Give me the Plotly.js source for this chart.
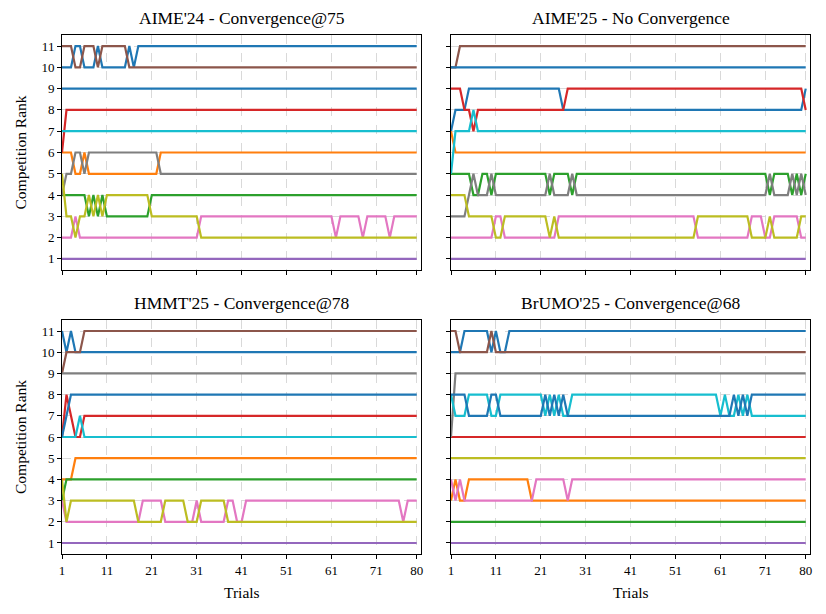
<!DOCTYPE html>
<html>
<head>
<meta charset="utf-8">
<script src="https://cdn.plot.ly/plotly-3.0.1.min.js"></script>
<style>html,body{margin:0;padding:0;background:#fff;}#chart{width:826px;height:614px;}</style>
</head>
<body>
<div id="chart"></div>
<script>
const trials = [1,2,3,4,5,6,7,8,9,10,11,12,13,14,15,16,17,18,19,20,21,22,23,24,25,26,27,28,29,30,31,32,33,34,35,36,37,38,39,40,41,42,43,44,45,46,47,48,49,50,51,52,53,54,55,56,57,58,59,60,61,62,63,64,65,66,67,68,69,70,71,72,73,74,75,76,77,78,79,80];
const xTicks = [1,11,21,31,41,51,61,71,80];
const yTicks = [1,2,3,4,5,6,7,8,9,10,11];
const panelTitles = ["AIME'24 - Convergence@75", "AIME'25 - No Convergence", "HMMT'25 - Convergence@78", "BrUMO'25 - Convergence@68"];

// rank per trial for 11 models (order: blue, orange, green, red, purple, brown, pink, gray, olive, cyan, blue)
const aime24Ranks = [
 [10,10,10,11,11,10,10,10,11,10, 10,10,10,10,10,11,10,11,11,11, 11,11,11,11,11,11,11,11,11,11, 11,11,11,11,11,11,11,11,11,11, 11,11,11,11,11,11,11,11,11,11, 11,11,11,11,11,11,11,11,11,11, 11,11,11,11,11,11,11,11,11,11, 11,11,11,11,11,11,11,11,11,11],
 [6,6,6,5,5,6,5,5,5,5, 5,5,5,5,5,5,5,5,5,5, 5,5,6,6,6,6,6,6,6,6, 6,6,6,6,6,6,6,6,6,6, 6,6,6,6,6,6,6,6,6,6, 6,6,6,6,6,6,6,6,6,6, 6,6,6,6,6,6,6,6,6,6, 6,6,6,6,6,6,6,6,6,6],
 [4,4,4,4,4,4,3,4,3,4, 3,3,3,3,3,3,3,3,3,3, 4,4,4,4,4,4,4,4,4,4, 4,4,4,4,4,4,4,4,4,4, 4,4,4,4,4,4,4,4,4,4, 4,4,4,4,4,4,4,4,4,4, 4,4,4,4,4,4,4,4,4,4, 4,4,4,4,4,4,4,4,4,4],
 [6,8,8,8,8,8,8,8,8,8, 8,8,8,8,8,8,8,8,8,8, 8,8,8,8,8,8,8,8,8,8, 8,8,8,8,8,8,8,8,8,8, 8,8,8,8,8,8,8,8,8,8, 8,8,8,8,8,8,8,8,8,8, 8,8,8,8,8,8,8,8,8,8, 8,8,8,8,8,8,8,8,8,8],
 [1,1,1,1,1,1,1,1,1,1, 1,1,1,1,1,1,1,1,1,1, 1,1,1,1,1,1,1,1,1,1, 1,1,1,1,1,1,1,1,1,1, 1,1,1,1,1,1,1,1,1,1, 1,1,1,1,1,1,1,1,1,1, 1,1,1,1,1,1,1,1,1,1, 1,1,1,1,1,1,1,1,1,1],
 [11,11,11,10,10,11,11,11,10,11, 11,11,11,11,11,10,10,10,10,10, 10,10,10,10,10,10,10,10,10,10, 10,10,10,10,10,10,10,10,10,10, 10,10,10,10,10,10,10,10,10,10, 10,10,10,10,10,10,10,10,10,10, 10,10,10,10,10,10,10,10,10,10, 10,10,10,10,10,10,10,10,10,10],
 [2,2,2,3,2,2,2,2,2,2, 2,2,2,2,2,2,2,2,2,2, 2,2,2,2,2,2,2,2,2,2, 2,3,3,3,3,3,3,3,3,3, 3,3,3,3,3,3,3,3,3,3, 3,3,3,3,3,3,3,3,3,3, 3,2,3,3,3,3,3,2,3,3, 3,3,3,2,3,3,3,3,3,3],
 [4,5,5,6,6,5,6,6,6,6, 6,6,6,6,6,6,6,6,6,6, 6,6,5,5,5,5,5,5,5,5, 5,5,5,5,5,5,5,5,5,5, 5,5,5,5,5,5,5,5,5,5, 5,5,5,5,5,5,5,5,5,5, 5,5,5,5,5,5,5,5,5,5, 5,5,5,5,5,5,5,5,5,5],
 [5,3,3,2,3,3,4,3,4,3, 4,4,4,4,4,4,4,4,4,4, 3,3,3,3,3,3,3,3,3,3, 3,2,2,2,2,2,2,2,2,2, 2,2,2,2,2,2,2,2,2,2, 2,2,2,2,2,2,2,2,2,2, 2,2,2,2,2,2,2,2,2,2, 2,2,2,2,2,2,2,2,2,2],
 [7,7,7,7,7,7,7,7,7,7, 7,7,7,7,7,7,7,7,7,7, 7,7,7,7,7,7,7,7,7,7, 7,7,7,7,7,7,7,7,7,7, 7,7,7,7,7,7,7,7,7,7, 7,7,7,7,7,7,7,7,7,7, 7,7,7,7,7,7,7,7,7,7, 7,7,7,7,7,7,7,7,7,7],
 [9,9,9,9,9,9,9,9,9,9, 9,9,9,9,9,9,9,9,9,9, 9,9,9,9,9,9,9,9,9,9, 9,9,9,9,9,9,9,9,9,9, 9,9,9,9,9,9,9,9,9,9, 9,9,9,9,9,9,9,9,9,9, 9,9,9,9,9,9,9,9,9,9, 9,9,9,9,9,9,9,9,9,9]
];

const aime25Ranks = [
 [7,8,8,8,9,9,9,9,9,9, 9,9,9,9,9,9,9,9,9,9, 9,9,9,9,9,8,8,8,8,8, 8,8,8,8,8,8,8,8,8,8, 8,8,8,8,8,8,8,8,8,8, 8,8,8,8,8,8,8,8,8,8, 8,8,8,8,8,8,8,8,8,8, 8,8,8,8,8,8,8,8,8,9],
 [7,6,6,6,6,6,6,6,6,6, 6,6,6,6,6,6,6,6,6,6, 6,6,6,6,6,6,6,6,6,6, 6,6,6,6,6,6,6,6,6,6, 6,6,6,6,6,6,6,6,6,6, 6,6,6,6,6,6,6,6,6,6, 6,6,6,6,6,6,6,6,6,6, 6,6,6,6,6,6,6,6,6,6],
 [5,5,5,5,5,4,4,5,5,4, 5,5,5,5,5,5,5,5,5,5, 5,5,4,5,5,5,5,4,5,5, 5,5,5,5,5,5,5,5,5,5, 5,5,5,5,5,5,5,5,5,5, 5,5,5,5,5,5,5,5,5,5, 5,5,5,5,5,5,5,5,5,5, 5,4,5,5,5,5,4,5,4,5],
 [9,9,9,8,8,7,8,8,8,8, 8,8,8,8,8,8,8,8,8,8, 8,8,8,8,8,8,9,9,9,9, 9,9,9,9,9,9,9,9,9,9, 9,9,9,9,9,9,9,9,9,9, 9,9,9,9,9,9,9,9,9,9, 9,9,9,9,9,9,9,9,9,9, 9,9,9,9,9,9,9,9,9,8],
 [1,1,1,1,1,1,1,1,1,1, 1,1,1,1,1,1,1,1,1,1, 1,1,1,1,1,1,1,1,1,1, 1,1,1,1,1,1,1,1,1,1, 1,1,1,1,1,1,1,1,1,1, 1,1,1,1,1,1,1,1,1,1, 1,1,1,1,1,1,1,1,1,1, 1,1,1,1,1,1,1,1,1,1],
 [10,10,11,11,11,11,11,11,11,11, 11,11,11,11,11,11,11,11,11,11, 11,11,11,11,11,11,11,11,11,11, 11,11,11,11,11,11,11,11,11,11, 11,11,11,11,11,11,11,11,11,11, 11,11,11,11,11,11,11,11,11,11, 11,11,11,11,11,11,11,11,11,11, 11,11,11,11,11,11,11,11,11,11],
 [2,2,2,2,2,2,2,2,2,2, 3,3,2,2,2,2,2,2,2,2, 2,2,2,2,3,3,3,3,3,3, 3,3,3,3,3,3,3,3,3,3, 3,3,3,3,3,3,3,3,3,3, 3,3,3,3,3,2,2,2,2,2, 2,2,2,2,2,2,2,3,3,3, 2,2,3,3,3,3,3,3,2,2],
 [3,3,3,3,4,5,4,4,4,5, 4,4,4,4,4,4,4,4,4,4, 4,4,5,4,4,4,4,5,4,4, 4,4,4,4,4,4,4,4,4,4, 4,4,4,4,4,4,4,4,4,4, 4,4,4,4,4,4,4,4,4,4, 4,4,4,4,4,4,4,4,4,4, 4,5,4,4,4,4,5,4,5,4],
 [4,4,4,4,3,3,3,3,3,3, 2,2,3,3,3,3,3,3,3,3, 3,3,2,3,2,2,2,2,2,2, 2,2,2,2,2,2,2,2,2,2, 2,2,2,2,2,2,2,2,2,2, 2,2,2,2,2,3,3,3,3,3, 3,3,3,3,3,3,3,2,2,2, 2,3,2,2,2,2,2,2,3,3],
 [5,7,7,7,7,8,7,7,7,7, 7,7,7,7,7,7,7,7,7,7, 7,7,7,7,7,7,7,7,7,7, 7,7,7,7,7,7,7,7,7,7, 7,7,7,7,7,7,7,7,7,7, 7,7,7,7,7,7,7,7,7,7, 7,7,7,7,7,7,7,7,7,7, 7,7,7,7,7,7,7,7,7,7],
 [10,10,10,10,10,10,10,10,10,10, 10,10,10,10,10,10,10,10,10,10, 10,10,10,10,10,10,10,10,10,10, 10,10,10,10,10,10,10,10,10,10, 10,10,10,10,10,10,10,10,10,10, 10,10,10,10,10,10,10,10,10,10, 10,10,10,10,10,10,10,10,10,10, 10,10,10,10,10,10,10,10,10,10]
];

const hmmt25Ranks = [
 [11,10,11,10,10,10,10,10,10,10, 10,10,10,10,10,10,10,10,10,10, 10,10,10,10,10,10,10,10,10,10, 10,10,10,10,10,10,10,10,10,10, 10,10,10,10,10,10,10,10,10,10, 10,10,10,10,10,10,10,10,10,10, 10,10,10,10,10,10,10,10,10,10, 10,10,10,10,10,10,10,10,10,10],
 [4,4,4,5,5,5,5,5,5,5, 5,5,5,5,5,5,5,5,5,5, 5,5,5,5,5,5,5,5,5,5, 5,5,5,5,5,5,5,5,5,5, 5,5,5,5,5,5,5,5,5,5, 5,5,5,5,5,5,5,5,5,5, 5,5,5,5,5,5,5,5,5,5, 5,5,5,5,5,5,5,5,5,5],
 [3,4,4,4,4,4,4,4,4,4, 4,4,4,4,4,4,4,4,4,4, 4,4,4,4,4,4,4,4,4,4, 4,4,4,4,4,4,4,4,4,4, 4,4,4,4,4,4,4,4,4,4, 4,4,4,4,4,4,4,4,4,4, 4,4,4,4,4,4,4,4,4,4, 4,4,4,4,4,4,4,4,4,4],
 [6,8,7,6,6,7,7,7,7,7, 7,7,7,7,7,7,7,7,7,7, 7,7,7,7,7,7,7,7,7,7, 7,7,7,7,7,7,7,7,7,7, 7,7,7,7,7,7,7,7,7,7, 7,7,7,7,7,7,7,7,7,7, 7,7,7,7,7,7,7,7,7,7, 7,7,7,7,7,7,7,7,7,7],
 [1,1,1,1,1,1,1,1,1,1, 1,1,1,1,1,1,1,1,1,1, 1,1,1,1,1,1,1,1,1,1, 1,1,1,1,1,1,1,1,1,1, 1,1,1,1,1,1,1,1,1,1, 1,1,1,1,1,1,1,1,1,1, 1,1,1,1,1,1,1,1,1,1, 1,1,1,1,1,1,1,1,1,1],
 [9,10,10,10,10,11,11,11,11,11, 11,11,11,11,11,11,11,11,11,11, 11,11,11,11,11,11,11,11,11,11, 11,11,11,11,11,11,11,11,11,11, 11,11,11,11,11,11,11,11,11,11, 11,11,11,11,11,11,11,11,11,11, 11,11,11,11,11,11,11,11,11,11, 11,11,11,11,11,11,11,11,11,11],
 [3,2,2,2,2,2,2,2,2,2, 2,2,2,2,2,2,2,2,3,3, 3,3,3,2,2,2,2,2,2,2, 3,2,2,2,2,2,2,3,3,2, 2,3,3,3,3,3,3,3,3,3, 3,3,3,3,3,3,3,3,3,3, 3,3,3,3,3,3,3,3,3,3, 3,3,3,3,3,3,2,3,3,3],
 [9,9,9,9,9,9,9,9,9,9, 9,9,9,9,9,9,9,9,9,9, 9,9,9,9,9,9,9,9,9,9, 9,9,9,9,9,9,9,9,9,9, 9,9,9,9,9,9,9,9,9,9, 9,9,9,9,9,9,9,9,9,9, 9,9,9,9,9,9,9,9,9,9, 9,9,9,9,9,9,9,9,9,9],
 [4,2,3,3,3,3,3,3,3,3, 3,3,3,3,3,3,3,2,2,2, 2,2,2,3,3,3,3,3,2,2, 2,3,3,3,3,3,3,2,2,2, 2,2,2,2,2,2,2,2,2,2, 2,2,2,2,2,2,2,2,2,2, 2,2,2,2,2,2,2,2,2,2, 2,2,2,2,2,2,2,2,2,2],
 [6,6,6,6,7,6,6,6,6,6, 6,6,6,6,6,6,6,6,6,6, 6,6,6,6,6,6,6,6,6,6, 6,6,6,6,6,6,6,6,6,6, 6,6,6,6,6,6,6,6,6,6, 6,6,6,6,6,6,6,6,6,6, 6,6,6,6,6,6,6,6,6,6, 6,6,6,6,6,6,6,6,6,6],
 [6,7,8,8,8,8,8,8,8,8, 8,8,8,8,8,8,8,8,8,8, 8,8,8,8,8,8,8,8,8,8, 8,8,8,8,8,8,8,8,8,8, 8,8,8,8,8,8,8,8,8,8, 8,8,8,8,8,8,8,8,8,8, 8,8,8,8,8,8,8,8,8,8, 8,8,8,8,8,8,8,8,8,8]
];

const brumo25Ranks = [
 [10,10,10,11,11,11,11,11,11,10, 11,10,10,11,11,11,11,11,11,11, 11,11,11,11,11,11,11,11,11,11, 11,11,11,11,11,11,11,11,11,11, 11,11,11,11,11,11,11,11,11,11, 11,11,11,11,11,11,11,11,11,11, 11,11,11,11,11,11,11,11,11,11, 11,11,11,11,11,11,11,11,11,11],
 [3,4,3,3,4,4,4,4,4,4, 4,4,4,4,4,4,4,4,3,3, 3,3,3,3,3,3,3,3,3,3, 3,3,3,3,3,3,3,3,3,3, 3,3,3,3,3,3,3,3,3,3, 3,3,3,3,3,3,3,3,3,3, 3,3,3,3,3,3,3,3,3,3, 3,3,3,3,3,3,3,3,3,3],
 [2,2,2,2,2,2,2,2,2,2, 2,2,2,2,2,2,2,2,2,2, 2,2,2,2,2,2,2,2,2,2, 2,2,2,2,2,2,2,2,2,2, 2,2,2,2,2,2,2,2,2,2, 2,2,2,2,2,2,2,2,2,2, 2,2,2,2,2,2,2,2,2,2, 2,2,2,2,2,2,2,2,2,2],
 [6,6,6,6,6,6,6,6,6,6, 6,6,6,6,6,6,6,6,6,6, 6,6,6,6,6,6,6,6,6,6, 6,6,6,6,6,6,6,6,6,6, 6,6,6,6,6,6,6,6,6,6, 6,6,6,6,6,6,6,6,6,6, 6,6,6,6,6,6,6,6,6,6, 6,6,6,6,6,6,6,6,6,6],
 [1,1,1,1,1,1,1,1,1,1, 1,1,1,1,1,1,1,1,1,1, 1,1,1,1,1,1,1,1,1,1, 1,1,1,1,1,1,1,1,1,1, 1,1,1,1,1,1,1,1,1,1, 1,1,1,1,1,1,1,1,1,1, 1,1,1,1,1,1,1,1,1,1, 1,1,1,1,1,1,1,1,1,1],
 [11,11,10,10,10,10,10,10,10,11, 10,10,10,10,10,10,10,10,10,10, 10,10,10,10,10,10,10,10,10,10, 10,10,10,10,10,10,10,10,10,10, 10,10,10,10,10,10,10,10,10,10, 10,10,10,10,10,10,10,10,10,10, 10,10,10,10,10,10,10,10,10,10, 10,10,10,10,10,10,10,10,10,10],
 [4,3,4,3,3,3,3,3,3,3, 3,3,3,3,3,3,3,3,3,4, 4,4,4,4,4,4,3,4,4,4, 4,4,4,4,4,4,4,4,4,4, 4,4,4,4,4,4,4,4,4,4, 4,4,4,4,4,4,4,4,4,4, 4,4,4,4,4,4,4,4,4,4, 4,4,4,4,4,4,4,4,4,4],
 [6,9,9,9,9,9,9,9,9,9, 9,9,9,9,9,9,9,9,9,9, 9,9,9,9,9,9,9,9,9,9, 9,9,9,9,9,9,9,9,9,9, 9,9,9,9,9,9,9,9,9,9, 9,9,9,9,9,9,9,9,9,9, 9,9,9,9,9,9,9,9,9,9, 9,9,9,9,9,9,9,9,9,9],
 [5,5,5,5,5,5,5,5,5,5, 5,5,5,5,5,5,5,5,5,5, 5,5,5,5,5,5,5,5,5,5, 5,5,5,5,5,5,5,5,5,5, 5,5,5,5,5,5,5,5,5,5, 5,5,5,5,5,5,5,5,5,5, 5,5,5,5,5,5,5,5,5,5, 5,5,5,5,5,5,5,5,5,5],
 [8,7,7,7,8,8,8,8,8,7, 7,8,8,8,8,8,8,8,8,8, 8,7,8,7,8,7,7,8,8,8, 8,8,8,8,8,8,8,8,8,8, 8,8,8,8,8,8,8,8,8,8, 8,8,8,8,8,8,8,8,8,8, 7,8,7,7,8,7,8,7,7,7, 7,7,7,7,7,7,7,7,7,7],
 [8,8,8,8,7,7,7,7,7,8, 8,7,7,7,7,7,7,7,7,7, 7,8,7,8,7,8,7,7,7,7, 7,7,7,7,7,7,7,7,7,7, 7,7,7,7,7,7,7,7,7,7, 7,7,7,7,7,7,7,7,7,7, 7,7,7,8,7,8,7,8,8,8, 8,8,8,8,8,8,8,8,8,8]
];

const colors = ['#1f77b4','#ff7f0e','#2ca02c','#d62728','#9467bd','#8c564b','#e377c2','#7f7f7f','#bcbd22','#17becf','#1f77b4'];
const panels = [aime24Ranks, aime25Ranks, hmmt25Ranks, brumo25Ranks];

const W = 826, H = 614;
const FONT = 'Liberation Serif, Times New Roman, serif';
const boxes = [
  {x0:62, x1:421, y0:35, y1:270},
  {x0:451, x1:810, y0:35, y1:270},
  {x0:62, x1:421, y0:320, y1:554},
  {x0:451, x1:810, y0:320, y1:554}
];

const traces = [];
panels.forEach((p, pi) => {
  const ax = pi === 0 ? '' : String(pi + 1);
  p.forEach((ranks, si) => {
    traces.push({
      type: 'scatter', mode: 'lines',
      x: trials, y: ranks,
      xaxis: 'x' + ax, yaxis: 'y' + ax,
      line: {color: colors[si], width: 2.2},
      showlegend: false, hoverinfo: 'skip'
    });
  });
});

const layout = {
  width: W, height: H,
  margin: {l:0, r:0, t:0, b:0},
  paper_bgcolor: '#fff', plot_bgcolor: '#fff',
  font: {family: FONT, size: 13, color: '#000'},
  showlegend: false,
  annotations: []
};

boxes.forEach((b, i) => {
  const ax = i === 0 ? '' : String(i + 1);
  layout['xaxis' + ax] = {
    domain: [b.x0 / W, b.x1 / W],
    anchor: 'y' + ax,
    range: [1, 80.95],
    tickmode: 'array', tickvals: xTicks, ticktext: xTicks.map(String),
    showticklabels: i >= 2,
    ticks: 'outside', ticklen: 4, tickwidth: 1, tickcolor: '#000',
    showline: true, linecolor: '#000', linewidth: 1, mirror: true,
    showgrid: true, gridcolor: '#d0d0d0', griddash: 'dash', gridwidth: 0.8,
    zeroline: false,
    tickfont: {family: FONT, size: 13, color: '#000'}
  };
  layout['yaxis' + ax] = {
    domain: [1 - b.y1 / H, 1 - b.y0 / H],
    anchor: 'x' + ax,
    range: [0.48, 11.52],
    tickmode: 'array', tickvals: yTicks, ticktext: yTicks.map(String),
    showticklabels: i % 2 === 0,
    ticks: 'outside', ticklen: 4, tickwidth: 1, tickcolor: '#000',
    showline: true, linecolor: '#000', linewidth: 1, mirror: true,
    showgrid: true, gridcolor: '#d0d0d0', griddash: 'dash', gridwidth: 0.8,
    zeroline: false,
    tickfont: {family: FONT, size: 13, color: '#000'}
  };
  layout.annotations.push({
    text: panelTitles[i], xref: 'paper', yref: 'paper',
    x: (b.x0 + b.x1) / 2 / W, y: 1 - (b.y0 - 17) / H,
    xanchor: 'center', yanchor: 'middle', showarrow: false,
    font: {family: FONT, size: 17.5, color: '#000'}
  });
  if (i % 2 === 0) {
    layout.annotations.push({
      text: 'Competition Rank', xref: 'paper', yref: 'paper',
      x: 20 / W, y: 1 - (b.y0 + b.y1) / 2 / H, textangle: -90,
      xanchor: 'center', yanchor: 'middle', showarrow: false,
      font: {family: FONT, size: 15.5, color: '#000'}
    });
  }
  if (i >= 2) {
    layout.annotations.push({
      text: 'Trials', xref: 'paper', yref: 'paper',
      x: (b.x0 + b.x1) / 2 / W, y: 1 - 592 / H,
      xanchor: 'center', yanchor: 'middle', showarrow: false,
      font: {family: FONT, size: 15.5, color: '#000'}
    });
  }
});

Plotly.newPlot('chart', traces, layout, {displayModeBar: false, staticPlot: true});
</script>
</body>
</html>
